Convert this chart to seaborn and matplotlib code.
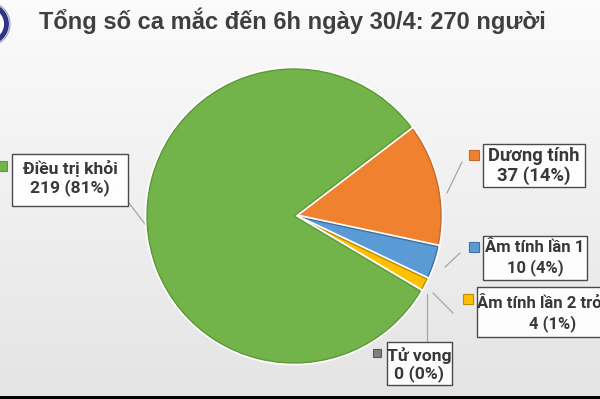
import numpy as np
import matplotlib
matplotlib.use("Agg")
import matplotlib.pyplot as plt
from matplotlib.patches import Rectangle, Circle
import matplotlib.patheffects as pe
import seaborn as sns

# ---- data ----
categories = ["Dương tính", "Âm tính lần 1", "Âm tính lần 2 trở lên", "Tử vong", "Điều trị khỏi"]
values = [37, 10, 4, 0, 219]
title = "Tổng số ca mắc đến 6h ngày 30/4: 270 người"

# ---- style ----
sns.set_theme(style="white")
plt.rcParams['font.family'] = ['Roboto', 'Noto Sans', 'DejaVu Sans']

colors = ["#F0822F", "#5B9BD5", "#FFC000", "#7F7F7F", "#72B34A"]
edges = ["#C8672A", "#41719C", "#BC8C00", "#595959", "#5E9838"]
explode = [0.035, 0.075, 0.075, 0.075, 0.0]
label_sizes = [13.2, 12.0, 12.0, 12.6, 12.6]

W, H = 600, 399
fig = plt.figure(figsize=(6, 3.99), dpi=100)
ax = fig.add_axes([0, 0, 1, 1])

def Y(y):
    return H - y

total = sum(values)
wedges, _ = ax.pie(values, colors=colors, startangle=90 - 52.7, counterclock=False,
                   center=(294, Y(216)), radius=147, explode=explode,
                   wedgeprops=dict(linewidth=1.0))
for w, ec in zip(wedges, edges):
    w.set_edgecolor(ec)
    w.set_zorder(3)
    w.set_path_effects([pe.Stroke(linewidth=3.5, foreground='white'), pe.Normal()])

ax.set_xlim(0, W)
ax.set_ylim(0, H)
ax.set_aspect('equal')
ax.axis('off')

# background gradient
grad = np.linspace(0, 1, 256).reshape(-1, 1)
bg = np.dstack([0.985 - 0.09 * grad] * 3)
ax.imshow(bg, extent=(0, W, 0, H), aspect='auto', zorder=0, origin='upper')
ax.add_patch(Rectangle((0, Y(399)), W, 3.5, fc='black', ec='none', zorder=1))

# logo
ax.add_patch(Circle((-12, Y(24)), 22, fc='white', ec='#B0B0B0', lw=1, zorder=1))
ax.add_patch(Circle((-12, Y(24)), 18.5, fc='none', ec='#2E3288', lw=3.5, zorder=1))

# title
ax.text(292, Y(21), title, ha='center', va='center', fontsize=17, fontweight='bold',
        color='#3F3F3F', family=['Liberation Sans', 'DejaVu Sans'], zorder=5)

# label boxes: (box x0, x1, y0, y1, line1 y, line2 y, marker x, marker y)
boxes = [
    (483, 585, 144, 187, 156, 176, 469, 150),
    (483, 587, 236, 280, 248, 268, 469, 242),
    (477, 629, 287, 337, 303, 324, 463, 294),
    (387, 452, 342, 385, 355, 374, 373, 349),
    (12, 128, 154, 206, 168, 188, -3, 161),
]
leaders = [
    ((462, 162), (447, 193)),
    ((460, 253), (445, 267)),
    ((453, 313), (433, 293)),
    ((427, 341), (427, 294)),
    ((106, 173), (148, 228)),
]
msize = [10, 10, 10, 8, 10]

for i, (cat, v) in enumerate(zip(categories, values)):
    x0, x1, y0, y1, t1, t2, mx, my = boxes[i]
    (lx0, ly0), (lx1, ly1) = leaders[i]
    ax.plot([lx0, lx1], [Y(ly0), Y(ly1)], color='#A6A6A6', lw=0.9, zorder=2)
    ax.add_patch(Rectangle((x0, Y(y1)), x1 - x0, y1 - y0, fc='white', ec='#404040',
                           lw=1.0, zorder=4, alpha=0.95))
    cx = (x0 + x1) / 2
    pct = round(v / total * 100)
    fs = label_sizes[i]
    ax.text(cx, Y(t1), cat, ha='center', va='center', fontsize=fs, fontweight='bold',
            color='#383838', zorder=5)
    ax.text(cx, Y(t2), f"{v} ({pct}%)", ha='center', va='center', fontsize=fs,
            fontweight='bold', color='#383838', zorder=5)
    s = msize[i]
    ax.add_patch(Rectangle((mx, Y(my + s)), s, s, fc=colors[i], ec=edges[i], lw=0.8, zorder=5))

fig.savefig("out.png", dpi=100)
